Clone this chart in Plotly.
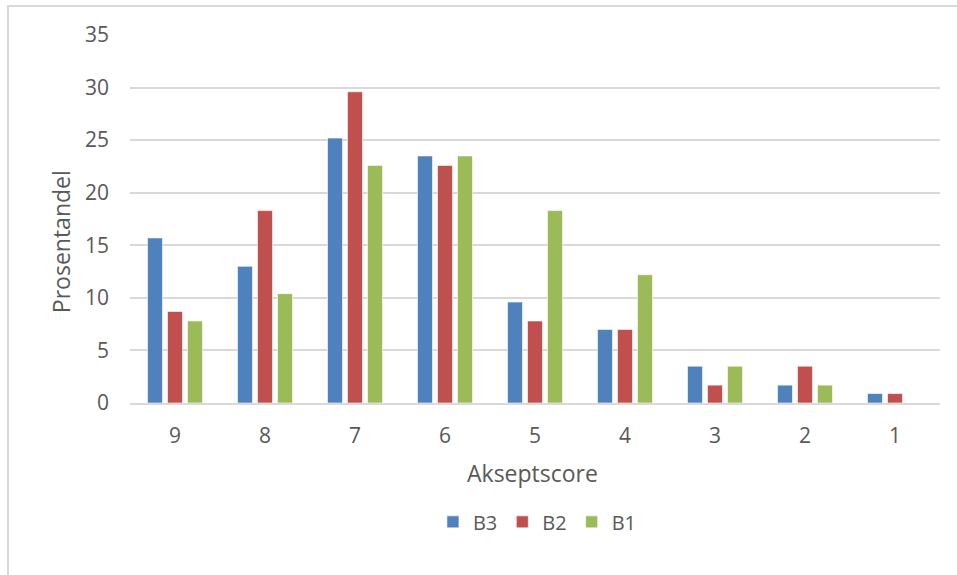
import plotly.graph_objects as go

# Akseptscore categories, listed from highest to lowest
categories = ["9", "8", "7", "6", "5", "4", "3", "2", "1"]

# Share of respondents (percent) per score
b3 = [15.7, 13.0, 25.2, 23.5, 9.6, 7.0, 3.5, 1.7, 0.9]
b2 = [8.7, 18.3, 29.6, 22.6, 7.8, 7.0, 1.7, 3.5, 0.9]
b1 = [7.8, 10.4, 22.6, 23.5, 18.3, 12.2, 3.5, 1.7, 0.0]

series = [("B3", b3, "#4F81BD"), ("B2", b2, "#C0504D"), ("B1", b1, "#9BBB59")]

FONT = "Open Sans, Liberation Sans, sans-serif"
TEXT = "#595959"
GRID = "#D9D9D9"

fig = go.Figure()
for name, vals, color in series:
    fig.add_trace(go.Bar(
        x=categories, y=vals, name=name,
        marker=dict(color=color, line=dict(color="white", width=0.6)),
    ))

fig.update_layout(
    width=957, height=575,
    margin=dict(l=130, r=17, t=35, b=172),
    paper_bgcolor="white", plot_bgcolor="white",
    barmode="group", bargap=1/3, bargroupgap=0.25,
    font=dict(family=FONT, size=20, color=TEXT),
    showlegend=True,
    legend=dict(orientation="h", x=0.503, xanchor="center", y=-0.323, yanchor="middle",
                font=dict(family=FONT, size=20, color=TEXT), itemwidth=30,
                traceorder="normal"),
    xaxis=dict(type="category", showgrid=False, showline=True, linecolor=GRID, linewidth=2,
               ticks="", tickfont=dict(size=21, color=TEXT), ticklabelstandoff=13),
    yaxis=dict(range=[0, 35], dtick=5, showgrid=True, gridcolor=GRID, gridwidth=2,
               zeroline=False, showline=False, ticks="",
               tickfont=dict(size=21, color=TEXT), ticklabelstandoff=20),
    annotations=[
        dict(text="Akseptscore", xref="paper", yref="paper", x=0.497, y=-0.19,
             xanchor="center", yanchor="middle", showarrow=False,
             font=dict(family=FONT, size=23, color=TEXT)),
        dict(text="Prosentandel", xref="paper", yref="paper", x=-0.085, y=0.4375,
             xanchor="center", yanchor="middle", showarrow=False, textangle=-90,
             font=dict(family=FONT, size=23, color=TEXT)),
    ],
    shapes=[
        # outer chart frame
        dict(type="rect", xref="paper", yref="paper",
             x0=-0.1506, x1=1.03, y0=-0.5, y1=1.0788,
             line=dict(color=GRID, width=2), fillcolor="rgba(0,0,0,0)", layer="below"),
    ],
)

fig.write_html("out.html")
